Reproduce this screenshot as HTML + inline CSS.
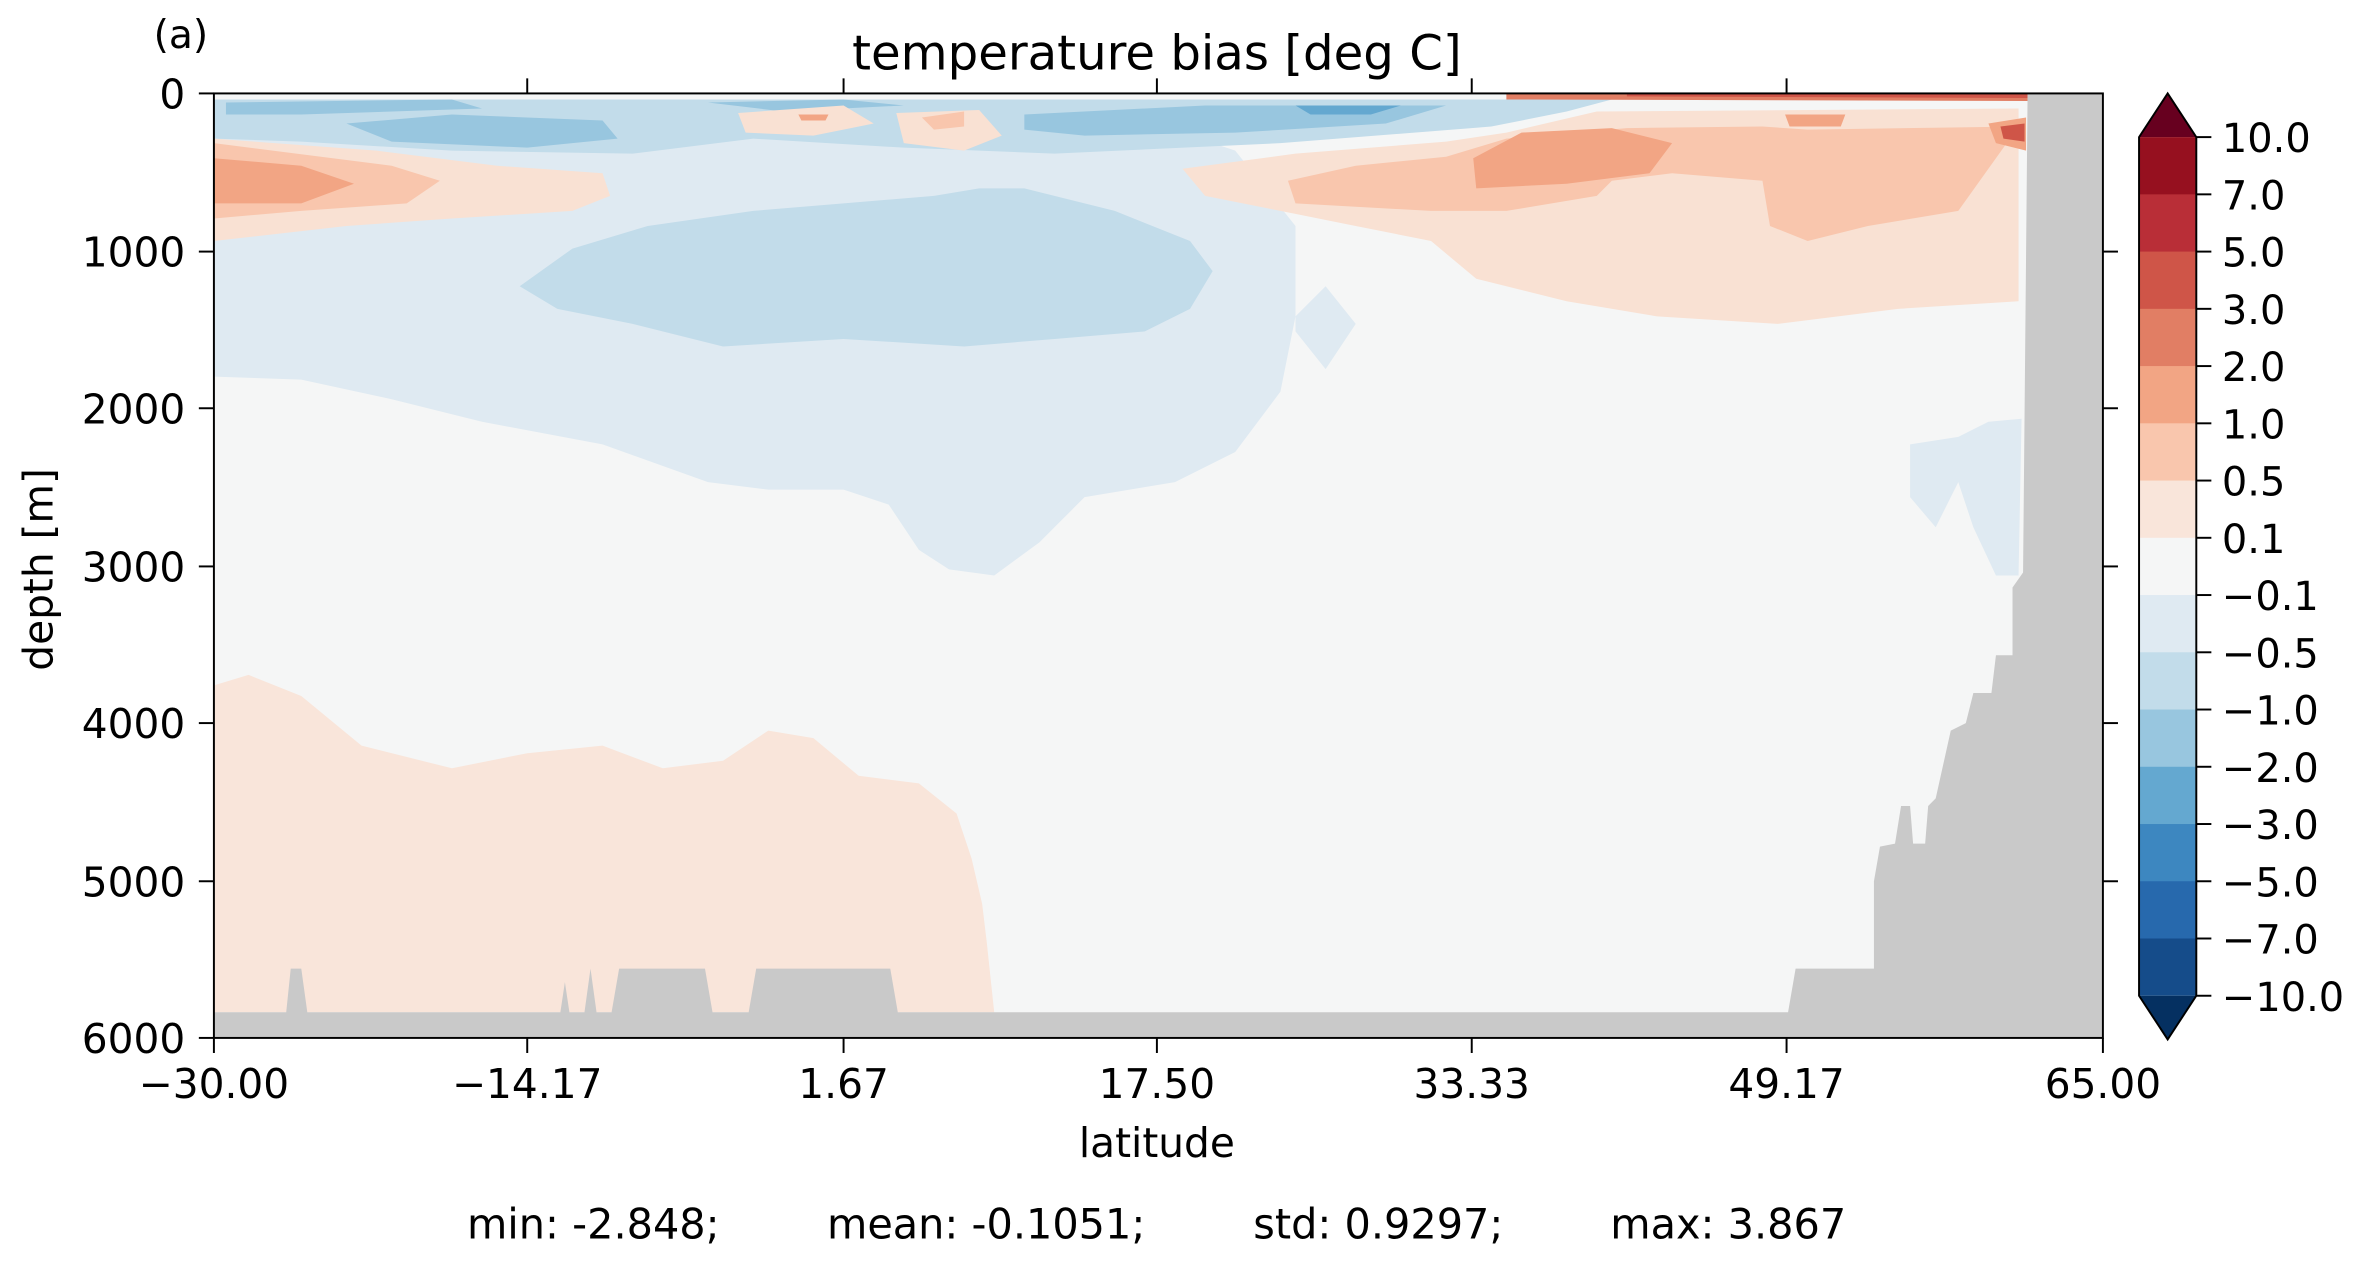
<!DOCTYPE html>
<html><head><meta charset="utf-8"><style>
html,body{margin:0;padding:0;background:#fff;width:2362px;height:1263px;overflow:hidden}
svg{display:block}
text{font-family:"DejaVu Sans","Liberation Sans",sans-serif;fill:#000}
</style></head><body>
<svg width="2362" height="1263" viewBox="0 0 1568 838.4" xmlns="http://www.w3.org/2000/svg">
<defs><clipPath id="pc"><rect x="142" y="62" width="1254" height="627"/></clipPath></defs>
<g clip-path="url(#pc)">
<rect x="142" y="62" width="1254" height="627" fill="#f5f6f6"/>
<path fill="#f9e5da" d="M142,455 L165,448 L200,462 L240,495 L300,510 L350,500 L400,495 L440,510 L480,505 L510,485 L540,490 L570,515 L610,520 L635,540 L645,570 L652,600 L655,625 L660,672 L142,672 Z"/>
<path fill="#dfeaf2" d="M142,160 L142,250 L200,252 L260,265 L320,280 L400,295 L470,320 L510,325 L560,325 L590,335 L610,365 L630,378 L660,382 L690,360 L720,330 L780,320 L820,300 L850,260 L860,210 L880,190 L900,215 L880,245 L860,220 L860,150 L820,100 L760,80 L600,75 L400,75 L142,75 Z"/>
<path fill="#dfeaf2" d="M1268,295 L1300,290 L1320,280 L1342,278 L1340,382 L1325,382 L1310,350 L1300,320 L1285,350 L1268,330 Z"/>
<path fill="#c2dcea" d="M345,190 L380,165 L430,150 L500,140 L560,135 L620,130 L650,125 L680,125 L700,130 L740,140 L790,160 L805,180 L790,205 L760,220 L700,225 L640,230 L560,225 L480,230 L420,215 L370,205 Z"/>
<path fill="#c2dcea" d="M142,66 L800,66 L1070,66 L1040,74 L990,84 L850,95 L700,102 L600,98 L500,92 L420,102 L300,100 L200,94 L142,92 Z"/>
<path fill="#98c6df" d="M230,82 L300,76 L400,80 L410,92 L350,98 L260,94 Z"/>
<path fill="#98c6df" d="M150,68 L300,66 L320,72 L200,76 L150,76 Z"/>
<path fill="#98c6df" d="M680,76 L800,70 L960,70 L920,82 L820,88 L720,90 L680,86 Z"/>
<path fill="#64a8d0" d="M860,70 L930,70 L910,76 L870,76 Z"/>
<path fill="#98c6df" d="M470,68 L560,66 L600,70 L520,74 Z"/>
<path fill="#f9e1d3" d="M142,92 L250,100 L330,110 L400,115 L405,130 L380,140 L300,145 L230,150 L142,160 Z"/>
<path fill="#f9c6ad" d="M142,95 L260,110 L292,120 L270,135 L200,140 L142,145 Z"/>
<path fill="#f2a584" d="M142,105 L200,110 L235,122 L200,135 L142,135 Z"/>
<path fill="#f9e1d3" d="M490,75 L560,70 L580,82 L540,90 L495,88 Z"/>
<path fill="#f9e1d3" d="M595,75 L650,73 L665,90 L640,100 L600,95 Z"/>
<path fill="#f9c6ad" d="M612,78 L640,74 L640,84 L620,86 Z"/>
<path fill="#f2a584" d="M530,76 L550,76 L548,80 L532,80 Z"/>
<path fill="#f9e1d3" d="M785,112 L860,102 L960,94 L1000,88 L1060,74 L1340,72 L1340,200 L1260,205 L1180,215 L1100,210 L1040,200 L980,185 L950,160 L900,150 L850,140 L800,130 Z"/>
<path fill="#f9c6ad" d="M855,120 L900,110 L960,104 L1000,92 L1080,85 L1170,84 L1200,86 L1340,84 L1300,140 L1240,150 L1200,160 L1175,150 L1170,120 L1110,115 L1070,120 L1060,130 L1000,140 L950,140 L860,135 Z"/>
<path fill="#f2a584" d="M978,105 L1010,88 L1070,85 L1110,95 L1095,115 L1040,122 L980,125 Z"/>
<path fill="#f2a584" d="M1185,76 L1225,76 L1222,84 L1188,84 Z"/>
<path fill="#f2a584" d="M1320,82 L1345,78 L1345,100 L1325,95 Z"/>
<path fill="#cf5548" d="M1328,84 L1344,82 L1344,94 L1330,92 Z"/>
<path fill="#e17e64" d="M1000,62 L1346,62 L1346,67 L1000,66 Z"/>
<path fill="#cf5548" d="M1080,62 L1346,62 L1346,65 L1080,64 Z"/>
<path fill="#c9c9c9" d="M1346,62 L1396,62 L1396,689 L142,689 L142,672 L190,672 L193,643 L200,643 L204,672 L372,672 L375,652 L378,672 L388,672 L392,643 L396,672 L406,672 L411,643 L468,643 L473,672 L497,672 L502,643 L591,643 L596,672 L1187,672 L1192,643 L1244,643 L1244,585 L1248,562 L1258,560 L1262,535 L1268,535 L1270,560 L1278,560 L1280,535 L1285,530 L1295,485 L1305,480 L1310,460 L1322,460 L1325,435 L1336,435 L1336,390 L1343,380 Z"/>
</g>
<rect x="142" y="62" width="1254" height="627" fill="none" stroke="#000" stroke-width="1.3"/>
<g stroke="#000" stroke-width="1.3">
<line x1="142" y1="689" x2="142" y2="699"/><line x1="350" y1="689" x2="350" y2="699"/><line x1="560" y1="689" x2="560" y2="699"/><line x1="768" y1="689" x2="768" y2="699"/><line x1="977" y1="689" x2="977" y2="699"/><line x1="1186" y1="689" x2="1186" y2="699"/><line x1="1396" y1="689" x2="1396" y2="699"/>
<line x1="350" y1="62" x2="350" y2="52"/><line x1="560" y1="62" x2="560" y2="52"/><line x1="768" y1="62" x2="768" y2="52"/><line x1="977" y1="62" x2="977" y2="52"/><line x1="1186" y1="62" x2="1186" y2="52"/>
<line x1="142" y1="62" x2="132" y2="62"/><line x1="142" y1="167" x2="132" y2="167"/><line x1="142" y1="271" x2="132" y2="271"/><line x1="142" y1="376" x2="132" y2="376"/><line x1="142" y1="480" x2="132" y2="480"/><line x1="142" y1="585" x2="132" y2="585"/><line x1="142" y1="689" x2="132" y2="689"/>
<line x1="1396" y1="167" x2="1406" y2="167"/><line x1="1396" y1="271" x2="1406" y2="271"/><line x1="1396" y1="376" x2="1406" y2="376"/><line x1="1396" y1="480" x2="1406" y2="480"/><line x1="1396" y1="585" x2="1406" y2="585"/>
</g>
<g font-size="27" text-anchor="middle">
<text x="142" y="729">−30.00</text><text x="350" y="729">−14.17</text><text x="560" y="729">1.67</text><text x="768" y="729">17.50</text><text x="977" y="729">33.33</text><text x="1186" y="729">49.17</text><text x="1396" y="729">65.00</text>
</g>
<g font-size="27" text-anchor="end">
<text x="123" y="72">0</text><text x="123" y="177">1000</text><text x="123" y="281">2000</text><text x="123" y="386">3000</text><text x="123" y="490">4000</text><text x="123" y="595">5000</text><text x="123" y="699">6000</text>
</g>
<text x="768" y="46" font-size="32" text-anchor="middle">temperature bias [deg C]</text>
<text x="102" y="32" font-size="26">(a)</text>
<text x="768" y="768" font-size="27" text-anchor="middle">latitude</text>
<text transform="translate(35,378) rotate(-90)" font-size="27" text-anchor="middle">depth [m]</text>
<g font-size="27.5"><text x="310" y="822">min: -2.848;</text><text x="549" y="822">mean: -0.1051;</text><text x="832" y="822">std: 0.9297;</text><text x="1069" y="822">max: 3.867</text></g>
<g>
<path d="M1420,91 L1439,62 L1458,91 Z" fill="#67001f"/>
<rect x="1420" y="91" width="38" height="38.3" fill="#96101f"/>
<rect x="1420" y="129" width="38" height="38.3" fill="#b92e37"/>
<rect x="1420" y="167" width="38" height="38.3" fill="#cf5548"/>
<rect x="1420" y="205" width="38" height="38.3" fill="#e17e64"/>
<rect x="1420" y="243" width="38" height="38.3" fill="#f2a584"/>
<rect x="1420" y="281" width="38" height="38.3" fill="#f9c6ad"/>
<rect x="1420" y="319" width="38" height="38.3" fill="#f9e5da"/>
<rect x="1420" y="357" width="38" height="38.3" fill="#f5f6f6"/>
<rect x="1420" y="395" width="38" height="38.3" fill="#dfeaf2"/>
<rect x="1420" y="433" width="38" height="38.3" fill="#c2dcea"/>
<rect x="1420" y="471" width="38" height="38.3" fill="#98c6df"/>
<rect x="1420" y="509" width="38" height="38.3" fill="#64a8d0"/>
<rect x="1420" y="547" width="38" height="38.3" fill="#3d87c0"/>
<rect x="1420" y="585" width="38" height="38.3" fill="#2769ad"/>
<rect x="1420" y="623" width="38" height="38" fill="#154c8a"/>
<path d="M1420,661 L1439,690 L1458,661 Z" fill="#053061"/>
<path d="M1420,91 L1439,62 L1458,91 L1458,661 L1439,690 L1420,661 Z" fill="none" stroke="#000" stroke-width="1.3"/>
</g>
<g stroke="#000" stroke-width="1.3">
<line x1="1458" y1="91" x2="1468" y2="91"/><line x1="1458" y1="129" x2="1468" y2="129"/><line x1="1458" y1="167" x2="1468" y2="167"/><line x1="1458" y1="205" x2="1468" y2="205"/><line x1="1458" y1="243" x2="1468" y2="243"/><line x1="1458" y1="281" x2="1468" y2="281"/><line x1="1458" y1="319" x2="1468" y2="319"/><line x1="1458" y1="357" x2="1468" y2="357"/><line x1="1458" y1="395" x2="1468" y2="395"/><line x1="1458" y1="433" x2="1468" y2="433"/><line x1="1458" y1="471" x2="1468" y2="471"/><line x1="1458" y1="509" x2="1468" y2="509"/><line x1="1458" y1="547" x2="1468" y2="547"/><line x1="1458" y1="585" x2="1468" y2="585"/><line x1="1458" y1="623" x2="1468" y2="623"/><line x1="1458" y1="661" x2="1468" y2="661"/>
</g>
<g font-size="26.5">
<text x="1475" y="101">10.0</text><text x="1475" y="139">7.0</text><text x="1475" y="177">5.0</text><text x="1475" y="215">3.0</text><text x="1475" y="253">2.0</text><text x="1475" y="291">1.0</text><text x="1475" y="329">0.5</text><text x="1475" y="367">0.1</text><text x="1475" y="405">−0.1</text><text x="1475" y="443">−0.5</text><text x="1475" y="481">−1.0</text><text x="1475" y="519">−2.0</text><text x="1475" y="557">−3.0</text><text x="1475" y="595">−5.0</text><text x="1475" y="633">−7.0</text><text x="1475" y="671">−10.0</text>
</g>
</svg>
</body></html>
